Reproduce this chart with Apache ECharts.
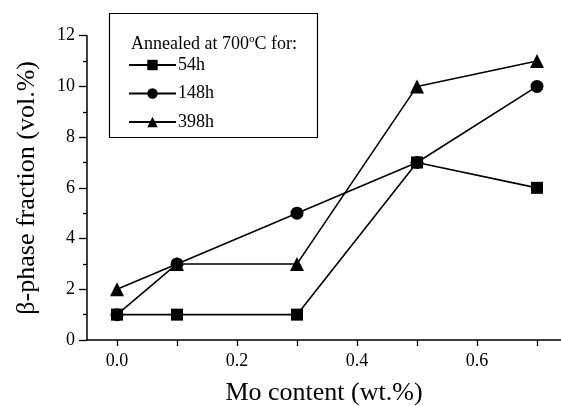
<!DOCTYPE html>
<html>
<head>
<meta charset="utf-8">
<script src="https://cdn.jsdelivr.net/npm/echarts@6/dist/echarts.min.js"></script>
<style>
  html, body { margin: 0; padding: 0; background: #fff; }
  #chart { width: 561px; height: 406px; }
</style>
</head>
<body>
<div id="chart"></div>
<script>
// Mo content (wt.%) of the alloys
const moContent = [0.0, 0.1, 0.3, 0.5, 0.7];
// beta-phase fraction (vol.%) after annealing at 700 C
const beta54h = [1, 1, 1, 7, 6];
const beta148h = [1, 3, 5, 7, 10];
const beta398h = [2, 3, 3, 10, 11];
const seriesNames = ['54h', '148h', '398h'];
const xLabelValues = [0.0, 0.2, 0.4, 0.6];
const xTickValues = [0.0, 0.1, 0.2, 0.3, 0.4, 0.5, 0.6, 0.7];

const FONT = '"Liberation Serif", "Times New Roman", serif';
const pairs = vals => moContent.map((x, i) => [x, vals[i]]);

const chart = echarts.init(document.getElementById('chart'), null, { renderer: 'canvas' });

const mk = (name, data, symbol, size) => ({
  name, type: 'line', data: pairs(data),
  symbol, symbolSize: size,
  itemStyle: { color: '#000' },
  lineStyle: { color: '#000', width: 1.6 },
  animation: false,
  z: symbol === 'rect' ? 4 : 3
});

chart.setOption({
  backgroundColor: '#fff',
  animation: false,
  grid: { left: 87, right: 0, top: 35.7, bottom: 66, containLabel: false, outerBoundsMode: 'none' },
  title: {
    text: 'Annealed at 700{sup|o}C for:',
    left: 126, top: 29,
    textStyle: {
      fontFamily: FONT, fontSize: 18, fontWeight: 'normal', color: '#000',
      rich: { sup: { fontFamily: FONT, fontSize: 11, verticalAlign: 'top', padding: [0, 0, 9, 0], color: '#000' } }
    }
  },
  legend: {
    data: seriesNames,
    orient: 'vertical',
    left: 123, top: 51,
    itemWidth: 47, itemHeight: 13, itemGap: 10.5,
    textStyle: { fontFamily: FONT, fontSize: 18, color: '#000', padding: [0, 0, 0, -3] },
    selectedMode: false
  },
  graphic: [{
    type: 'rect',
    shape: { x: 109.5, y: 13.5, width: 208, height: 124 },
    style: { fill: '#fff', stroke: '#000', lineWidth: 1.2 },
    z: -1
  }],
  xAxis: {
    type: 'value', min: -0.05, max: 0.74,
    name: 'Mo content (wt.%)', nameLocation: 'middle', nameGap: 40,
    nameTextStyle: { fontFamily: FONT, fontSize: 26, color: '#000' },
    axisLine: { show: true, onZero: false, lineStyle: { color: '#000', width: 1.5 } },
    axisTick: { show: true, inside: false, length: 6, customValues: xTickValues, lineStyle: { color: '#000', width: 1.3 } },
    axisLabel: { customValues: xLabelValues, margin: 12, fontFamily: FONT, fontSize: 18, color: '#000',
      formatter: v => v.toFixed(1) },
    splitLine: { show: false }
  },
  yAxis: {
    type: 'value', min: 0, max: 12, interval: 2,
    name: 'β-phase fraction (vol.%)', nameLocation: 'middle', nameGap: 47,
    nameTextStyle: { fontFamily: FONT, fontSize: 26, color: '#000' },
    axisLine: { show: true, onZero: false, lineStyle: { color: '#000', width: 1.5 } },
    axisTick: { show: true, length: 8, lineStyle: { color: '#000', width: 1.3 } },
    minorTick: { show: true, splitNumber: 2, length: 4, lineStyle: { color: '#000', width: 1.3 } },
    axisLabel: { margin: 12, fontFamily: FONT, fontSize: 18, color: '#000' },
    splitLine: { show: false }
  },
  series: [
    mk(seriesNames[0], beta54h, 'rect', 12),
    mk(seriesNames[1], beta148h, 'circle', 13),
    mk(seriesNames[2], beta398h, 'triangle', 14)
  ]
});
</script>
</body>
</html>
